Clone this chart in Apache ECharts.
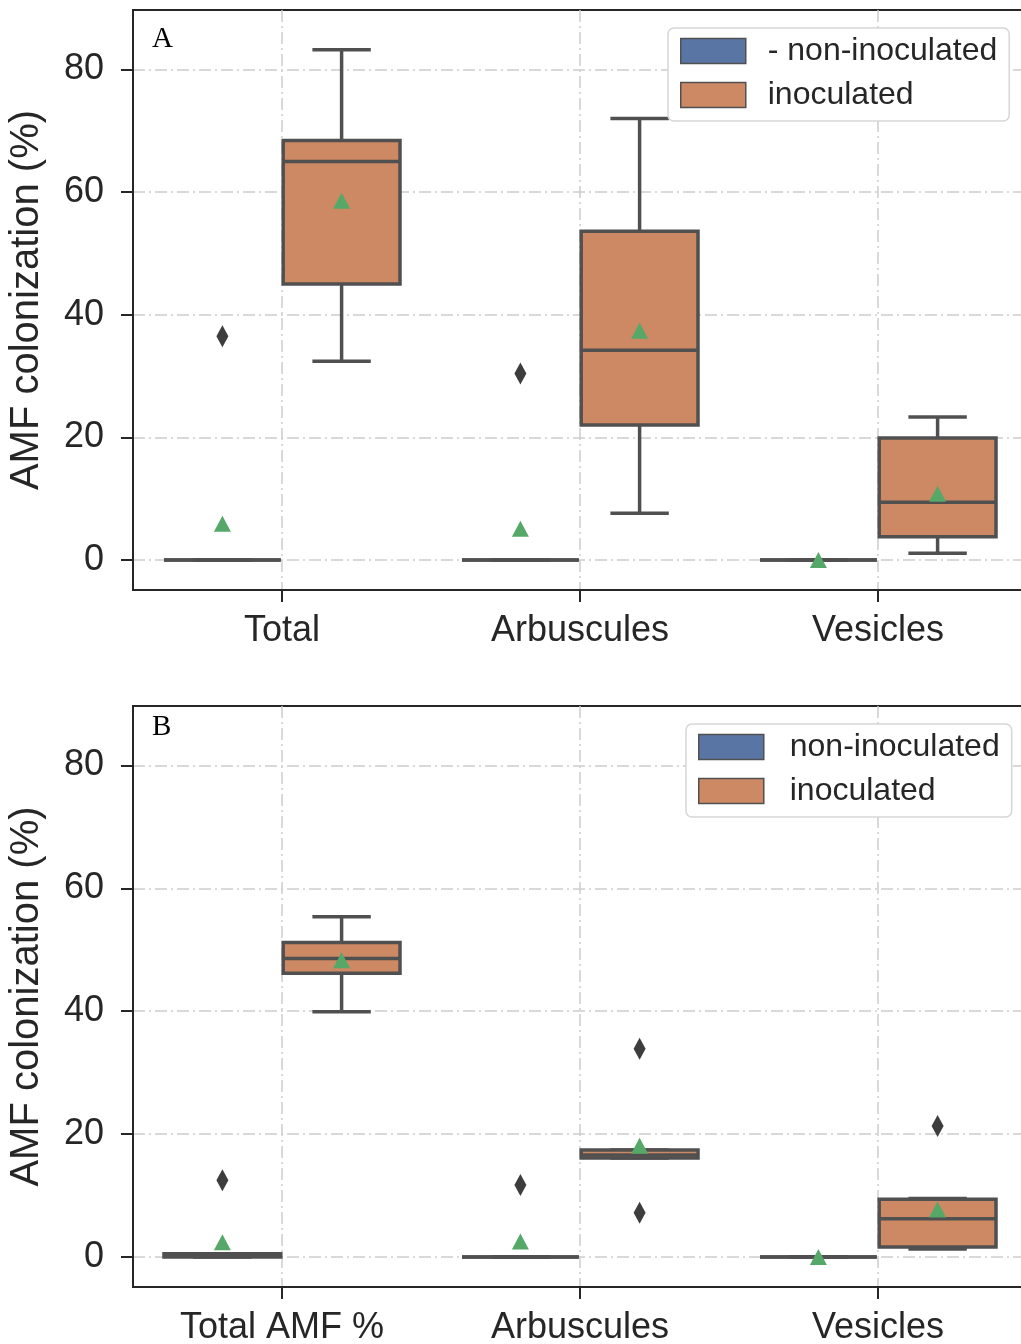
<!DOCTYPE html>
<html>
<head>
<meta charset="utf-8">
<script src="https://cdn.jsdelivr.net/npm/echarts@6/dist/echarts.min.js"></script>
<style>
  html, body { margin: 0; padding: 0; background: #ffffff; }
  #chart { width: 1021px; height: 1344px; }
</style>
</head>
<body>
<div id="chart"></div>
<script>
// ---- data ----
const categoriesA = ['Total', 'Arbuscules', 'Vesicles'];
const categoriesB = ['Total AMF %', 'Arbuscules', 'Vesicles'];
const groupNamesA = ['- non-inoculated', 'inoculated'];
const groupNamesB = ['non-inoculated', 'inoculated'];
const yTickValues = [0, 20, 40, 60, 80];

// box statistics per category: [lower whisker, Q1, median, Q3, upper whisker]
const boxA_non = [[0, 0, 0, 0, 0], [0, 0, 0, 0, 0], [0, 0, 0, 0, 0]];
const boxA_ino = [[32.4, 45.0, 65.0, 68.4, 83.2], [7.6, 22.0, 34.2, 53.6, 72.0], [1.1, 3.8, 9.4, 19.9, 23.3]];
const meanA_non = [5.9, 5.1, 0.0];
const meanA_ino = [58.6, 37.4, 10.8];
const outliersA_non = [[36.5], [30.4], []];
const outliersA_ino = [[], [], []];

const boxB_non = [[0, 0, 0.2, 0.5, 0.5], [0, 0, 0, 0, 0], [0, 0, 0, 0, 0]];
const boxB_ino = [[39.9, 46.2, 48.6, 51.2, 55.4], [16.1, 16.1, 16.6, 17.4, 17.4], [1.3, 1.6, 6.2, 9.4, 9.5]];
const meanB_non = [2.4, 2.5, 0.0];
const meanB_ino = [48.3, 18.1, 7.7];
const outliersB_non = [[12.5], [11.7], []];
const outliersB_ino = [[], [33.9, 7.2], [21.3]];

// ---- style ----
const FONT = "'Liberation Sans', Arial, sans-serif";
const INK = '#262626';
const LINE = '#505050';
const BLUE = '#5875a4';
const ORANGE = '#cc8963';
const GREEN = '#55a868';
const GRID_LINE = { color: '#cdcdcd', width: 1.5, type: [12, 4, 2, 4] };
const DODGE = 0.2;        // hue offset in category units
const BOX_FRAC = 0.392;   // box width in category units

function boxRenderer(offset, fill) {
  return function (params, api) {
    const x = api.value(0);
    const lo = api.value(1), q1 = api.value(2), med = api.value(3), q3 = api.value(4), hi = api.value(5);
    const band = api.size([1, 0])[0];
    const cx = api.coord([x + offset, 0])[0];
    const w = band * BOX_FRAC;
    const capHalf = w / 4;
    const y = v => api.coord([x, v])[1];
    const ls = { stroke: LINE, lineWidth: 3.5, lineCap: 'butt' };
    return {
      type: 'group',
      children: [
        { type: 'line', shape: { x1: cx, y1: y(q3), x2: cx, y2: y(hi) }, style: ls },
        { type: 'line', shape: { x1: cx, y1: y(q1), x2: cx, y2: y(lo) }, style: ls },
        { type: 'line', shape: { x1: cx - capHalf, y1: y(hi), x2: cx + capHalf, y2: y(hi) }, style: ls },
        { type: 'line', shape: { x1: cx - capHalf, y1: y(lo), x2: cx + capHalf, y2: y(lo) }, style: ls },
        { type: 'rect', shape: { x: cx - w / 2, y: y(q3), width: w, height: y(q1) - y(q3) },
          style: { fill: fill, stroke: LINE, lineWidth: 3.5 } },
        { type: 'line', shape: { x1: cx - w / 2, y1: y(med), x2: cx + w / 2, y2: y(med) }, style: ls }
      ]
    };
  };
}

function boxSeries(name, gridIdx, stats, offset, fill) {
  return {
    type: 'custom', name: name, xAxisIndex: gridIdx, yAxisIndex: gridIdx,
    renderItem: boxRenderer(offset, fill),
    encode: { x: 0, y: [1, 2, 3, 4, 5] },
    itemStyle: { color: fill },
    data: stats.map((s, i) => [i].concat(s)),
    z: 2
  };
}

function meanSeries(name, gridIdx, means, offset) {
  return {
    type: 'scatter', name: name, xAxisIndex: gridIdx, yAxisIndex: gridIdx,
    symbol: 'triangle', symbolSize: [17, 16],
    itemStyle: { color: GREEN, opacity: 1 },
    data: means.map((v, i) => [i + offset, v]),
    z: 4, silent: true
  };
}

function outlierSeries(name, gridIdx, outliers, offset) {
  const pts = [];
  outliers.forEach((list, i) => list.forEach(v => pts.push([i + offset, v])));
  return {
    type: 'scatter', name: name, xAxisIndex: gridIdx, yAxisIndex: gridIdx,
    symbol: 'path://M0,-1L0.55,0L0,1L-0.55,0Z', symbolSize: [12, 22],
    itemStyle: { color: '#3d3d3d', opacity: 1 },
    data: pts,
    z: 4, silent: true
  };
}

function xAxisFor(gridIdx, cats) {
  return {
    type: 'value', gridIndex: gridIdx, min: -0.5, max: 2.5,
    axisLine: { show: true, onZero: false, lineStyle: { color: INK, width: 2 } },
    axisTick: { show: true, customValues: [0, 1, 2], length: 12, lineStyle: { color: INK, width: 2 } },
    axisLabel: { customValues: [0, 1, 2], formatter: v => cats[Math.round(v)],
                 fontSize: 36, color: INK, fontFamily: FONT, margin: 23 },
    splitLine: { show: true, lineStyle: GRID_LINE }
  };
}

function yAxisFor(gridIdx) {
  return {
    type: 'value', gridIndex: gridIdx, min: -4.9, max: 89.7,
    name: 'AMF colonization (%)', nameLocation: 'middle', nameGap: 86,
    nameTextStyle: { fontSize: 40, color: INK, fontFamily: FONT },
    axisLine: { show: true, onZero: false, lineStyle: { color: INK, width: 2 } },
    axisTick: { show: true, customValues: yTickValues, length: 12, lineStyle: { color: INK, width: 2 } },
    axisLabel: { customValues: yTickValues, fontSize: 36, color: INK, fontFamily: FONT, margin: 29 },
    splitLine: { show: true, lineStyle: GRID_LINE }
  };
}

function legendFor(left, top, names, textPad) {
  return {
    orient: 'vertical', left: left, top: top,
    data: [
      { name: names[0], icon: 'rect', itemStyle: { color: BLUE, borderColor: LINE, borderWidth: 1.5 } },
      { name: names[1], icon: 'rect', itemStyle: { color: ORANGE, borderColor: LINE, borderWidth: 1.5 } }
    ],
    itemWidth: 65, itemHeight: 25, itemGap: 12,
    backgroundColor: '#ffffff', borderColor: '#d6d6d6', borderWidth: 1.5, borderRadius: 6,
    padding: [7, 12, 10, 12],
    selectedMode: false,
    textStyle: { fontSize: 32, color: INK, fontFamily: FONT, padding: [0, 0, 0, textPad] }
  };
}

const chart = echarts.init(document.getElementById('chart'), null, { renderer: 'canvas' });

chart.setOption({
  animation: false,
  backgroundColor: '#ffffff',
  grid: [
    { left: 133, top: 10, width: 894, height: 580, outerBoundsMode: 'none', show: true,
      borderColor: INK, borderWidth: 2, backgroundColor: '#ffffff' },
    { left: 133, top: 706, width: 894, height: 581, outerBoundsMode: 'none', show: true,
      borderColor: INK, borderWidth: 2, backgroundColor: '#ffffff' }
  ],
  xAxis: [xAxisFor(0, categoriesA), xAxisFor(1, categoriesB)],
  yAxis: [yAxisFor(0), yAxisFor(1)],
  legend: [
    legendFor(668, 28, groupNamesA, 17),
    legendFor(686, 724, groupNamesB, 21)
  ],
  graphic: [
    { type: 'text', left: 152, top: 25, style: { text: 'A', font: "29px 'Liberation Serif', 'Times New Roman', serif", fill: '#000' }, z: 10 },
    { type: 'text', left: 152, top: 713, style: { text: 'B', font: "29px 'Liberation Serif', 'Times New Roman', serif", fill: '#000' }, z: 10 }
  ],
  series: [
    boxSeries(groupNamesA[0], 0, boxA_non, -DODGE, BLUE),
    boxSeries(groupNamesA[1], 0, boxA_ino, DODGE, ORANGE),
    outlierSeries(groupNamesA[0], 0, outliersA_non, -DODGE),
    outlierSeries(groupNamesA[1], 0, outliersA_ino, DODGE),
    meanSeries(groupNamesA[0], 0, meanA_non, -DODGE),
    meanSeries(groupNamesA[1], 0, meanA_ino, DODGE),

    boxSeries(groupNamesB[0], 1, boxB_non, -DODGE, BLUE),
    boxSeries(groupNamesB[1], 1, boxB_ino, DODGE, ORANGE),
    outlierSeries(groupNamesB[0], 1, outliersB_non, -DODGE),
    outlierSeries(groupNamesB[1], 1, outliersB_ino, DODGE),
    meanSeries(groupNamesB[0], 1, meanB_non, -DODGE),
    meanSeries(groupNamesB[1], 1, meanB_ino, DODGE)
  ]
});
</script>
</body>
</html>
